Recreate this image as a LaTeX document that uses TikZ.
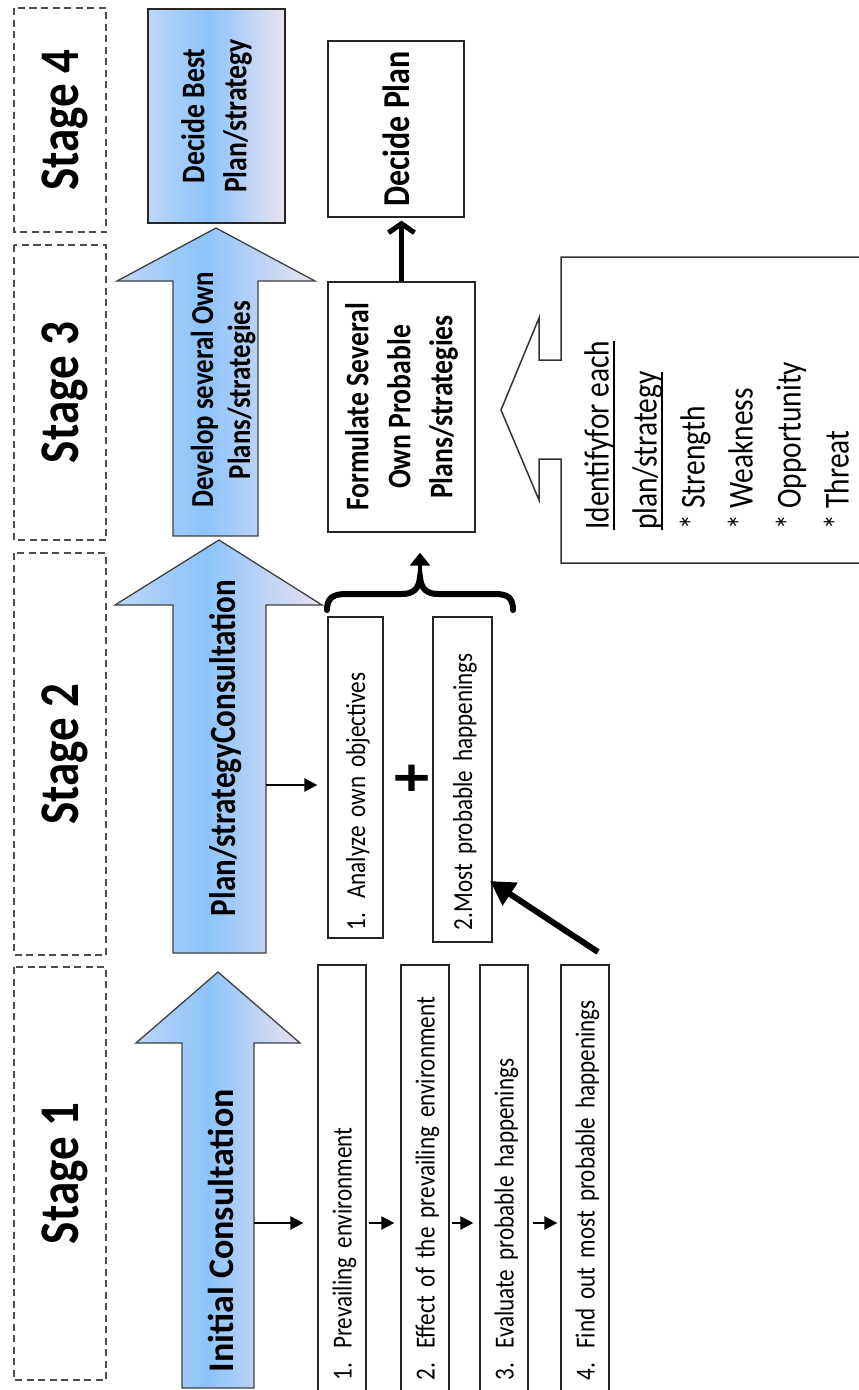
\documentclass[tikz,border=0pt]{standalone}
\usepackage{fontspec}
\setmainfont{Carlito}[FakeStretch=0.84]
\newfontfamily\wideCal{Carlito}[FakeStretch=1.0]
\newsavebox\swotbox
\newcommand{\swotul}[1]{\sbox\swotbox{#1}\rlap{\rule[-6pt]{\wd\swotbox}{1.6pt}}\usebox\swotbox}
\usetikzlibrary{arrows.meta,positioning}
\definecolor{stageblueL}{RGB}{190,215,245}
\definecolor{stageblueM}{RGB}{141,195,250}
\definecolor{stagelav}{RGB}{234,227,241}
\pgfdeclarehorizontalshading{stagefade}{100bp}{color(0bp)=(stageblueL); color(25bp)=(stageblueL); color(47bp)=(stageblueM); color(75bp)=(stagelav); color(100bp)=(stagelav)}

\begin{document}
\begin{tikzpicture}[x=1pt, y=-1pt,
	stagebox/.style={draw=black!70, line width=1.2pt, dash pattern=on 7pt off 4.5pt, rotate=90, minimum height=92pt, inner sep=0pt, text depth=0pt, font=\fontsize{56}{60}\selectfont\bfseries},
	blockarrow/.style={draw=black!75, line width=1.3pt, shade, shading=stagefade},
	listbox/.style={draw=black!85, line width=1.3pt, rotate=90, inner ysep=0pt, text depth=0pt, align=left, font=\fontsize{27.5}{30}\selectfont},
	planbox/.style={draw=black!85, line width=1.3pt, rotate=90, inner sep=0pt, align=center, font=\fontsize{33}{42}\selectfont\bfseries},
	thinarrow/.style={line width=2.4pt, -{Triangle[length=13pt,width=13pt]}},
	thickarrow/.style={line width=6pt, -{Triangle[length=24pt,width=26pt]}}]
			\useasboundingbox (0,0) rectangle (859,1390);
			% stages
			\node[stagebox, minimum width=224pt] (stage4) at (60,120) {Stage 4};
			\node[stagebox, minimum width=295pt] (stage3) at (60,392.5) {Stage 3};
			\node[stagebox, minimum width=402pt] (stage2) at (60,754) {Stage 2};
			\node[stagebox, minimum width=413pt] (stage1) at (60,1173.5) {Stage 1};
			% block arrows
			\draw[blockarrow] (182,1388) -- (182,1043) -- (136,1043) -- (218,972) -- (300,1043) -- (254,1043) -- (254,1388) -- cycle;
			\draw[blockarrow] (173,953) -- (173,605) -- (115,605) -- (219,540) -- (322,605) -- (266,605) -- (266,953) -- cycle;
			\draw[blockarrow] (173,536) -- (173,281) -- (117,281) -- (216,228) -- (315,281) -- (258,281) -- (258,536) -- cycle;
			\node[rotate=90, anchor=base, font=\wideCal\fontsize{36}{40}\selectfont\bfseries] (initc) at (233,1231) {Initial Consultation};
			\node[rotate=90, anchor=base, font=\fontsize{37}{40}\selectfont\bfseries] (planc) at (235,748) {Plan/strategyConsultation};
			\node[rotate=90, align=center, font=\fontsize{32}{37}\selectfont\bfseries] (devel) at (223,390) {Develop several Own\\Plans/strategies};
			\node[planbox, shade, shading=stagefade, shading angle=0, minimum width=214pt, minimum height=137pt] (best) at (216.5,116) {Decide Best\\Plan/strategy};
			% stage 1 list
			\node[listbox, minimum width=435pt, minimum height=48pt, text width=395pt, inner xsep=20pt] (env1) at (342,1182.5) {1.\hspace{0.5em}Prevailing environment};
			\node[listbox, minimum width=435pt, minimum height=48pt, text width=395pt, inner xsep=20pt] (env2) at (425,1182.5) {2.\hspace{0.5em}Effect of the prevailing environment};
			\node[listbox, minimum width=435pt, minimum height=48pt, text width=395pt, inner xsep=20pt] (env3) at (504,1182.5) {3.\hspace{0.5em}Evaluate probable happenings};
			\node[listbox, minimum width=435pt, minimum height=48pt, text width=395pt, inner xsep=20pt] (env4) at (585,1182.5) {4.\hspace{0.5em}Find out most probable happenings};
			\coordinate (ictail) at (254,1223);
			\draw[thinarrow, shorten >=14pt] (ictail) -- (ictail -| env1.north);
			\draw[thinarrow, shorten <=2pt, shorten >=6pt] (env1.south |- ictail) -- (env2.north |- ictail);
			\draw[thinarrow, shorten <=2pt, shorten >=6pt] (env2.south |- ictail) -- (env3.north |- ictail);
			\draw[thinarrow, shorten <=4pt, shorten >=3pt] (env3.south |- ictail) -- (env4.north |- ictail);
			% stage 2 list
			\node[listbox, minimum width=321pt, minimum height=55pt, text width=305pt, inner xsep=8pt] (anlz) at (355.5,777.5) {1. Analyze own objectives};
			\node[listbox, minimum width=325pt, minimum height=59pt, text width=301pt, inner xsep=12pt] (most) at (462.5,779.5) {2.Most probable happenings};
			\node[rotate=90, font=\fontsize{68}{68}\selectfont\bfseries] (plus) at (415,778) {+};
			\coordinate (pctail) at (266,785);
			\draw[thinarrow, shorten >=10pt] (pctail) -- (pctail -| anlz.north);
			\coordinate (diagtail) at (598,952);
			\draw[thickarrow, shorten >=-3pt] (diagtail) -- ([yshift=60pt]most.south west);
			% brace
			\draw[line width=6pt, line cap=round] (327,610) .. controls (327,598) and (333,594) .. (346,594) -- (402,594) .. controls (413,594) and (419,589) .. (420,577) .. controls (421,589) and (427,594) .. (438,594) -- (495,594) .. controls (508,594) and (513,598) .. (513,610);
			\coordinate (bracetip) at (420,577);
			% stage 3 and 4 boxes
			\node[planbox, minimum width=250pt, minimum height=147pt] (form) at (401.5,407) {Formulate Several\\Own Probable\\Plans/strategies};
			\node[planbox, minimum width=176pt, minimum height=136pt, font=\fontsize{38}{42}\selectfont\bfseries] (plan) at (396,129) {Decide Plan};
			\draw[line width=3.5pt, -{Triangle[length=13pt,width=20pt]}, shorten >=20pt] (bracetip) -- (bracetip |- form.west);
			\draw[line width=5pt, -{Straight Barb[length=9pt,width=26pt]}, shorten >=3pt] (form.east) -- (form.east |- plan.west);
			% swot callout
			\draw[draw=black!80, line width=1.5pt] (880,257) -- (561,257) -- (561,360) -- (539,360) -- (539,318) -- (501,410) -- (539,500) -- (539,459) -- (561,459) -- (561,563) -- (880,563);
			\node[rotate=90, anchor=north west, inner sep=0pt, align=left, font=\fontsize{35}{48}\selectfont] (swot) at (584,530) {\swotul{Identifyfor each}\\\swotul{plan/strategy}\\* Strength\\* Weakness\\* Opportunity\\* Threat};
\end{tikzpicture}
\end{document}
